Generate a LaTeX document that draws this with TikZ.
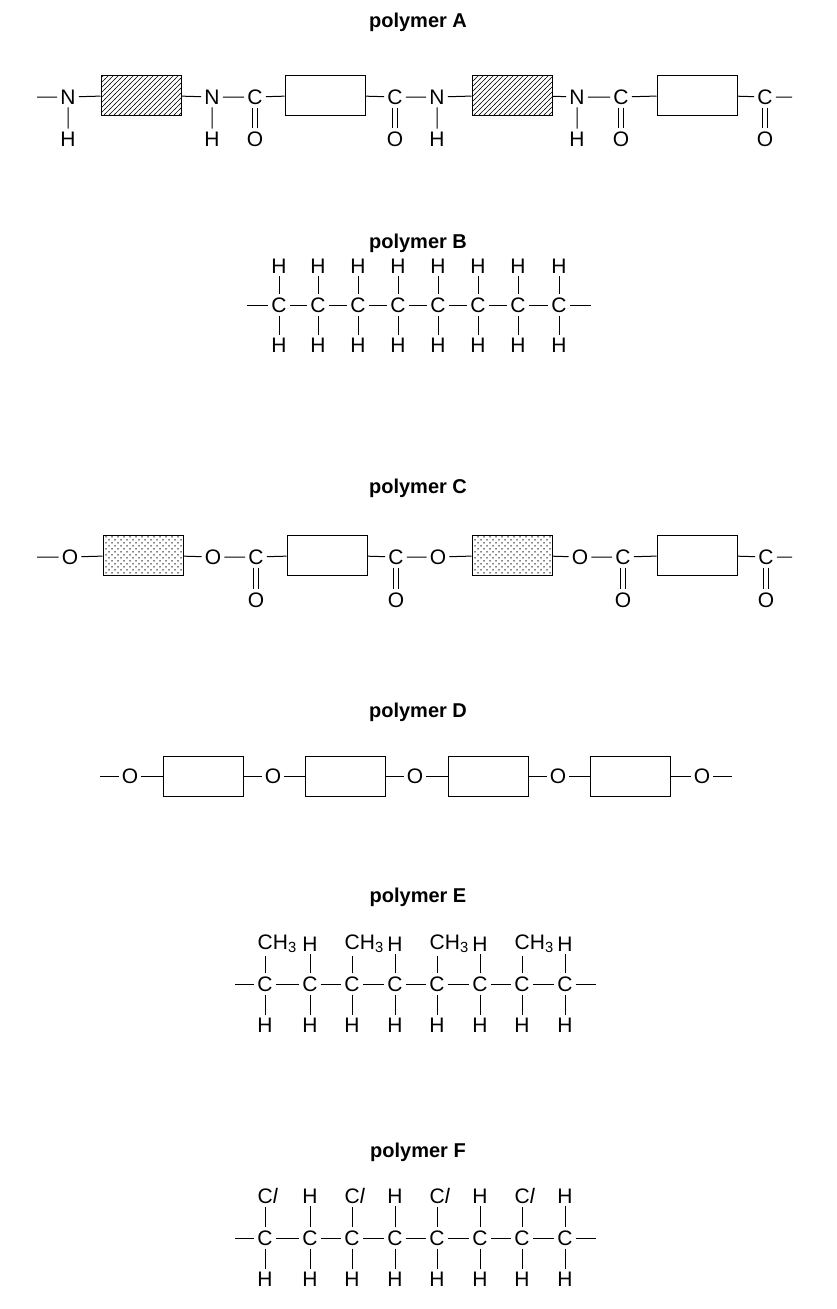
\documentclass[tikz,border=0pt]{standalone}
\usepackage{fontspec}
\setmainfont{Liberation Sans}
\usetikzlibrary{patterns}
\pgfdeclarepatternformonly{hatchA}{\pgfqpoint{-1pt}{-1pt}}{\pgfqpoint{6pt}{6pt}}{\pgfqpoint{5pt}{5pt}}{%
  \pgfsetlinewidth{0.6pt}\pgfpathmoveto{\pgfqpoint{-0.5pt}{-0.5pt}}\pgfpathlineto{\pgfqpoint{5.5pt}{5.5pt}}\pgfusepath{stroke}}
\pgfdeclarepatternformonly{dotsA}{\pgfqpoint{-1pt}{-1pt}}{\pgfqpoint{7pt}{7pt}}{\pgfqpoint{6pt}{6pt}}{%
  \pgfpathcircle{\pgfqpoint{1pt}{1pt}}{0.75pt}\pgfpathcircle{\pgfqpoint{4pt}{4pt}}{0.75pt}\pgfusepath{fill}}
\begin{document}
\begin{tikzpicture}[x=1pt,y=1pt,
  atom/.style={inner sep=3pt,font=\fontsize{21}{23}\selectfont},
  ttl/.style={font=\fontsize{20}{23}\selectfont\bfseries},
  bond/.style={line width=1pt,black},
  bx/.style={draw,line width=1pt,minimum width=80pt,minimum height=40pt,inner sep=0pt},
  hbox/.style={bx,pattern=hatchA},
  dbox/.style={bx,pattern=dotsA}]
\useasboundingbox (0,0) rectangle (836,-1309);
\newcommand{\dbl}[2]{\draw[bond] ([xshift=-2.5pt]#1.south) -- ([xshift=-2.5pt]#2.north);
  \draw[bond] ([xshift=2.5pt]#1.south) -- ([xshift=2.5pt]#2.north);}
% polymer A
\node[ttl] (tA) at (418,-22) {polymer A};
\coordinate (a0) at (37,-97); \coordinate (a9) at (792,-97);
\node[atom] (aN1) at (68,-97) {N}; \node[atom] (aH1) at (68,-139) {H};
\node[hbox] (aB1) at (141,-95) {};
\node[atom] (aN2) at (212,-97) {N}; \node[atom] (aH2) at (212,-139) {H};
\node[atom] (aC1) at (255,-97) {C}; \node[atom] (aO1) at (255,-139) {O};
\node[bx] (aB2) at (325,-95) {};
\node[atom] (aC2) at (395,-97) {C}; \node[atom] (aO2) at (395,-139) {O};
\node[atom] (aN3) at (437,-97) {N}; \node[atom] (aH3) at (437,-139) {H};
\node[hbox] (aB3) at (512,-95) {};
\node[atom] (aN4) at (577,-97) {N}; \node[atom] (aH4) at (577,-139) {H};
\node[atom] (aC3) at (621,-97) {C}; \node[atom] (aO3) at (621,-139) {O};
\node[bx] (aB4) at (697,-95) {};
\node[atom] (aC4) at (765,-97) {C}; \node[atom] (aO4) at (765,-139) {O};
\draw[bond] (a0)--(aN1) (aN1)--(aB1) (aB1)--(aN2) (aN2)--(aC1) (aC1)--(aB2) (aB2)--(aC2)
  (aC2)--(aN3) (aN3)--(aB3) (aB3)--(aN4) (aN4)--(aC3) (aC3)--(aB4) (aB4)--(aC4) (aC4)--(a9)
  (aN1)--(aH1) (aN2)--(aH2) (aN3)--(aH3) (aN4)--(aH4);
\dbl{aC1}{aO1}\dbl{aC2}{aO2}\dbl{aC3}{aO3}\dbl{aC4}{aO4}
% polymer B
\node[ttl] (tB) at (418,-243) {polymer B};
\coordinate (b0) at (247,-305); \coordinate (b9) at (591,-305);
\foreach \x [count=\i] in {279,318,358,398,438,478,518,559}{
  \node[atom] (bC\i) at (\x,-305) {C};
  \node[atom] (bT\i) at (\x,-266) {H};
  \node[atom] (bD\i) at (\x,-345) {H};
  \draw[bond] (bT\i)--(bC\i)--(bD\i);}
\draw[bond] (b0)--(bC1) (bC8)--(b9);
\foreach \i [evaluate=\i as \j using int(\i+1)] in {1,...,7}{\draw[bond] (bC\i)--(bC\j);}
% polymer C
\node[ttl] (tC) at (418,-488) {polymer C};
\coordinate (c0) at (37,-557); \coordinate (c9) at (792,-557);
\node[atom] (cO1) at (70,-557) {O};
\node[dbox] (cB1) at (143,-555) {};
\node[atom] (cO2) at (213,-557) {O};
\node[atom] (cC1) at (256,-557) {C}; \node[atom] (cX1) at (256,-600) {O};
\node[bx] (cB2) at (327,-555) {};
\node[atom] (cC2) at (396,-557) {C}; \node[atom] (cX2) at (396,-600) {O};
\node[atom] (cO3) at (438,-557) {O};
\node[dbox] (cB3) at (512,-555) {};
\node[atom] (cO4) at (580,-557) {O};
\node[atom] (cC3) at (623,-557) {C}; \node[atom] (cX3) at (623,-600) {O};
\node[bx] (cB4) at (697,-555) {};
\node[atom] (cC4) at (766,-557) {C}; \node[atom] (cX4) at (766,-600) {O};
\draw[bond] (c0)--(cO1) (cO1)--(cB1) (cB1)--(cO2) (cO2)--(cC1) (cC1)--(cB2) (cB2)--(cC2)
  (cC2)--(cO3) (cO3)--(cB3) (cB3)--(cO4) (cO4)--(cC3) (cC3)--(cB4) (cB4)--(cC4) (cC4)--(c9);
\dbl{cC1}{cX1}\dbl{cC2}{cX2}\dbl{cC3}{cX3}\dbl{cC4}{cX4}
% polymer D
\node[ttl] (tD) at (418,-712) {polymer D};
\coordinate (d0) at (100,-776); \coordinate (d9) at (732,-776);
\node[atom] (dO1) at (130,-776) {O};
\node[bx] (dB1) at (203,-776) {};
\node[atom] (dO2) at (273,-776) {O};
\node[bx] (dB2) at (345,-776) {};
\node[atom] (dO3) at (415,-776) {O};
\node[bx] (dB3) at (488,-776) {};
\node[atom] (dO4) at (558,-776) {O};
\node[bx] (dB4) at (630,-776) {};
\node[atom] (dO5) at (702,-776) {O};
\draw[bond] (d0)--(dO1) (dO1)--(dB1) (dB1)--(dO2) (dO2)--(dB2) (dB2)--(dO3) (dO3)--(dB3)
  (dB3)--(dO4) (dO4)--(dB4) (dB4)--(dO5) (dO5)--(d9);
% polymer E
\node[ttl] (tE) at (418,-897) {polymer E};
\coordinate (e0) at (235,-984); \coordinate (e9) at (596,-984);
\foreach \x [count=\i] in {265,310,352,395,437,480,522,565}{
  \node[atom] (eC\i) at (\x,-984) {C};
  \node[atom] (eD\i) at (\x,-1025) {H};
  \draw[bond] (eC\i)--(eD\i);}
\foreach \i in {1,3,5,7}{\node[atom,anchor=west] (eT\i) at ([xshift=-10.5pt]eC\i.center |- 0,-944) {CH\textsubscript{3}};
  \draw[bond] (eC\i) -- (eC\i |- eT\i.south);}
\foreach \i in {2,4,6,8}{\node[atom] (eT\i) at (eC\i |- 0,-944) {H}; \draw[bond] (eC\i)--(eT\i);}
\draw[bond] (e0)--(eC1) (eC8)--(e9);
\foreach \i [evaluate=\i as \j using int(\i+1)] in {1,...,7}{\draw[bond] (eC\i)--(eC\j);}
% polymer F
\node[ttl] (tF) at (418,-1152) {polymer F};
\coordinate (f0) at (235,-1238); \coordinate (f9) at (596,-1238);
\foreach \x [count=\i] in {265,310,352,395,437,480,522,565}{
  \node[atom] (fC\i) at (\x,-1238) {C};
  \node[atom] (fD\i) at (\x,-1279) {H};
  \draw[bond] (fC\i)--(fD\i);}
\foreach \i in {1,3,5,7}{\node[atom,anchor=west] (fT\i) at ([xshift=-10.5pt]fC\i.center |- 0,-1196) {C$\mathit{l}$};
  \draw[bond] (fC\i) -- (fC\i |- fT\i.south);}
\foreach \i in {2,4,6,8}{\node[atom] (fT\i) at (fC\i |- 0,-1196) {H}; \draw[bond] (fC\i)--(fT\i);}
\draw[bond] (f0)--(fC1) (fC8)--(f9);
\foreach \i [evaluate=\i as \j using int(\i+1)] in {1,...,7}{\draw[bond] (fC\i)--(fC\j);}
\end{tikzpicture}
\end{document}
